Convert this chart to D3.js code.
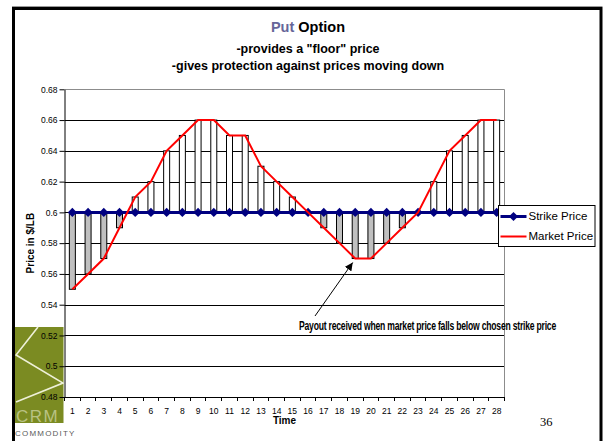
<!DOCTYPE html>
<html>
<head>
<meta charset="utf-8">
<script src="https://cdn.jsdelivr.net/npm/d3@7"></script>
<style>
  html, body { margin: 0; padding: 0; background: #fff; }
  svg { display: block; font-family: "Liberation Sans", Arial, sans-serif; }
</style>
</head>
<body>
<svg id="chart" width="609" height="441"></svg>
<script>
// Time periods on the x axis
const periods = [1, 2, 3, 4, 5, 6, 7, 8, 9, 10, 11, 12, 13, 14, 15, 16, 17, 18, 19, 20, 21, 22, 23, 24, 25, 26, 27, 28];
// Chosen strike price ($/LB), flat over time
const strikePrice = [0.6, 0.6, 0.6, 0.6, 0.6, 0.6, 0.6, 0.6, 0.6, 0.6, 0.6, 0.6, 0.6, 0.6,
                     0.6, 0.6, 0.6, 0.6, 0.6, 0.6, 0.6, 0.6, 0.6, 0.6, 0.6, 0.6, 0.6, 0.6];
// Market price ($/LB) per period
const marketPrice = [0.55, 0.56, 0.57, 0.59, 0.61, 0.62, 0.64, 0.65, 0.66, 0.66, 0.65, 0.65, 0.63, 0.62,
                     0.61, 0.60, 0.59, 0.58, 0.57, 0.57, 0.58, 0.59, 0.60, 0.62, 0.64, 0.65, 0.66, 0.66];
// Price axis ticks
const yTickValues = [0.48, 0.5, 0.52, 0.54, 0.56, 0.58, 0.6, 0.62, 0.64, 0.66, 0.68];
const yTickLabels = ["0.48", "0.5", "0.52", "0.54", "0.56", "0.58", "0.6", "0.62", "0.64", "0.66", "0.68"];
const seriesNames = ["Strike Price", "Market Price"];

const svg = d3.select("#chart");

const plot = { left: 64.5, right: 504.5, top: 89.3, bottom: 397 };

const x = d3.scaleBand().domain(periods).range([plot.left, plot.right]).padding(0);
const y = d3.scaleLinear().domain([0.48, 0.68]).range([plot.bottom, plot.top]);
const cx = p => x(p) + x.bandwidth() / 2;
const snap = v => Math.round(v) + 0.5;

// Slide frame
svg.append("rect")
  .attr("x", 13.5).attr("y", 8.5).attr("width", 587.5).attr("height", 450)
  .attr("fill", "#fff").attr("stroke", "#000").attr("stroke-width", 3);
svg.append("line")
  .attr("x1", 12).attr("x2", 602.5).attr("y1", 6.5).attr("y2", 6.5)
  .attr("stroke", "#9a9a9a").attr("stroke-width", 1);

// Company logo, lower left
const logo = svg.append("g");
logo.append("rect")
  .attr("x", 15).attr("y", 327).attr("width", 48.5).attr("height", 96)
  .attr("fill", "#7b8b22");
logo.append("polyline")
  .attr("points", "38,327 16,355 63,383 16,402")
  .attr("fill", "none").attr("stroke", "#eef0d8").attr("stroke-width", 1.6);
logo.append("text")
  .attr("x", 16).attr("y", 421.5)
  .attr("font-size", 17).attr("font-weight", 300)
  .attr("letter-spacing", 1.5)
  .attr("fill", "#b9c283")
  .text("CRM");
logo.append("text")
  .attr("x", 15).attr("y", 435.5)
  .attr("font-size", 8).attr("letter-spacing", 1.2)
  .attr("fill", "#5a5a5a")
  .text("COMMODITY");

// Title
const title = svg.append("text")
  .attr("x", 308).attr("y", 32)
  .attr("text-anchor", "middle")
  .attr("font-size", 14.5).attr("font-weight", "bold");
title.append("tspan").attr("fill", "#666699").text("Put");
title.append("tspan").attr("fill", "#000").text(" Option");
svg.append("text")
  .attr("x", 308).attr("y", 52.5)
  .attr("text-anchor", "middle")
  .attr("font-size", 12.5).attr("font-weight", "bold")
  .text("-provides a \"floor\" price");
svg.append("text")
  .attr("x", 308).attr("y", 69.5)
  .attr("text-anchor", "middle")
  .attr("font-size", 12.5).attr("font-weight", "bold")
  .text("-gives protection against prices moving down");

// Horizontal gridlines
svg.append("g")
  .selectAll("line")
  .data(yTickValues.filter(v => v > 0.48 && v < 0.68))
  .join("line")
  .attr("x1", plot.left).attr("x2", plot.right)
  .attr("y1", d => snap(y(d))).attr("y2", d => snap(y(d)))
  .attr("stroke", "#000").attr("stroke-width", 1);

// Plot area border (top and right)
svg.append("path")
  .attr("d", `M${plot.left},${snap(y(0.68))}H${plot.right}V${plot.bottom}`)
  .attr("fill", "none").attr("stroke", "#8c8c8c").attr("stroke-width", 1);

// Payoff bars between strike and market price
svg.append("g")
  .selectAll("rect")
  .data(periods.map((p, i) => ({ p, strike: strikePrice[i], market: marketPrice[i] }))
        .filter(d => d.market !== d.strike))
  .join("rect")
  .attr("x", d => cx(d.p) - 3)
  .attr("width", 6)
  .attr("y", d => y(Math.max(d.market, d.strike)))
  .attr("height", d => Math.abs(y(d.market) - y(d.strike)))
  .attr("fill", d => d.market > d.strike ? "#ffffff" : "#c0c0c0")
  .attr("stroke", "#000").attr("stroke-width", 1);

// Y axis
const yAxis = svg.append("g")
  .attr("transform", `translate(${plot.left},0)`)
  .call(d3.axisLeft(y)
    .tickValues(yTickValues)
    .tickFormat((d, i) => yTickLabels[i])
    .tickSize(5).tickSizeOuter(0).tickPadding(2));
yAxis.select(".domain").attr("stroke", "#000");
yAxis.selectAll(".tick line").attr("stroke", "#000");
yAxis.selectAll("text")
  .attr("font-family", "Liberation Sans, Arial, sans-serif")
  .attr("font-size", 8.5).attr("fill", "#000");

// X axis with ticks on category boundaries
const xAxis = svg.append("g")
  .attr("transform", `translate(0,${plot.bottom})`)
  .call(d3.axisBottom(x).tickSize(0).tickSizeOuter(0));
xAxis.select(".domain").attr("stroke", "#000");
xAxis.selectAll("text")
  .attr("y", 14).attr("dy", "0.35em")
  .attr("font-family", "Liberation Sans, Arial, sans-serif")
  .attr("font-size", 8.5).attr("fill", "#000");
svg.append("g")
  .selectAll("line")
  .data(periods.map(p => x(p)).concat([x.range()[1]]))
  .join("line")
  .attr("x1", d => snap(d - 0.5)).attr("x2", d => snap(d - 0.5))
  .attr("y1", plot.bottom).attr("y2", plot.bottom + 4)
  .attr("stroke", "#000");

// Axis titles
svg.append("text")
  .attr("transform", `translate(31,${(plot.top + plot.bottom) / 2}) rotate(-90)`)
  .attr("text-anchor", "middle").attr("dominant-baseline", "middle")
  .attr("font-size", 10).attr("font-weight", "bold")
  .text("Price in $/LB");
svg.append("text")
  .attr("x", (plot.left + plot.right) / 2).attr("y", 423.5)
  .attr("text-anchor", "middle")
  .attr("font-size", 10).attr("font-weight", "bold")
  .text("Time");

// Strike price line with diamond markers
const priceLine = d3.line().x((d, i) => cx(periods[i])).y(d => y(d));
svg.append("path")
  .datum(strikePrice)
  .attr("d", priceLine)
  .attr("fill", "none").attr("stroke", "#000080").attr("stroke-width", 3);
const diamond = d3.symbol().type(d3.symbolSquare).size(42);
svg.append("g")
  .selectAll("path")
  .data(strikePrice)
  .join("path")
  .attr("d", diamond)
  .attr("transform", (d, i) => `translate(${cx(periods[i])},${y(d)}) rotate(45)`)
  .attr("fill", "#000080");

// Market price line
svg.append("path")
  .datum(marketPrice)
  .attr("d", priceLine)
  .attr("fill", "none").attr("stroke", "#ff0000").attr("stroke-width", 2);

// Legend
const legend = svg.append("g");
legend.append("rect")
  .attr("x", 498.5).attr("y", 205.5).attr("width", 96.5).attr("height", 41)
  .attr("fill", "#fff").attr("stroke", "#000").attr("stroke-width", 1);
const legendRows = [
  { name: seriesNames[0], color: "#000080", width: 3, marker: true, cy: 216.5 },
  { name: seriesNames[1], color: "#ff0000", width: 2, marker: false, cy: 236.5 }
];
legendRows.forEach(r => {
  legend.append("line")
    .attr("x1", 500.5).attr("x2", 526.5).attr("y1", r.cy).attr("y2", r.cy)
    .attr("stroke", r.color).attr("stroke-width", r.width);
  if (r.marker) {
    legend.append("path")
      .attr("d", diamond)
      .attr("transform", `translate(513.5,${r.cy}) rotate(45)`)
      .attr("fill", r.color);
  }
  legend.append("text")
    .attr("x", 528.5).attr("y", r.cy)
    .attr("dominant-baseline", "middle")
    .attr("font-size", 11.5)
    .text(r.name);
});

// Annotation with arrow pointing at the price trough
const defs = svg.append("defs");
defs.append("marker")
  .attr("id", "arrowhead")
  .attr("viewBox", "0 0 10 10")
  .attr("refX", 10).attr("refY", 5)
  .attr("markerWidth", 8).attr("markerHeight", 8)
  .attr("markerUnits", "userSpaceOnUse")
  .attr("orient", "auto")
  .append("path")
  .attr("d", "M0,0L10,5L0,10z")
  .attr("fill", "#000");
svg.append("line")
  .attr("x1", 315).attr("y1", 316)
  .attr("x2", cx(19) - 2.5).attr("y2", y(0.57) + 4)
  .attr("stroke", "#000").attr("stroke-width", 1)
  .attr("marker-end", "url(#arrowhead)");
svg.append("text")
  .attr("x", 299).attr("y", 329.5)
  .attr("font-family", "'Liberation Sans Narrow', 'Arial Narrow', 'Liberation Sans', sans-serif")
  .attr("font-size", 12).attr("font-weight", "bold")
  .attr("letter-spacing", -0.3)
  .attr("textLength", 257).attr("lengthAdjust", "spacingAndGlyphs")
  .text("Payout received when market price falls below chosen strike price");

// Page number
svg.append("text")
  .attr("x", 540).attr("y", 425.5)
  .attr("font-family", "'Liberation Serif', 'Times New Roman', serif")
  .attr("font-size", 12.5)
  .text("36");
</script>
</body>
</html>
